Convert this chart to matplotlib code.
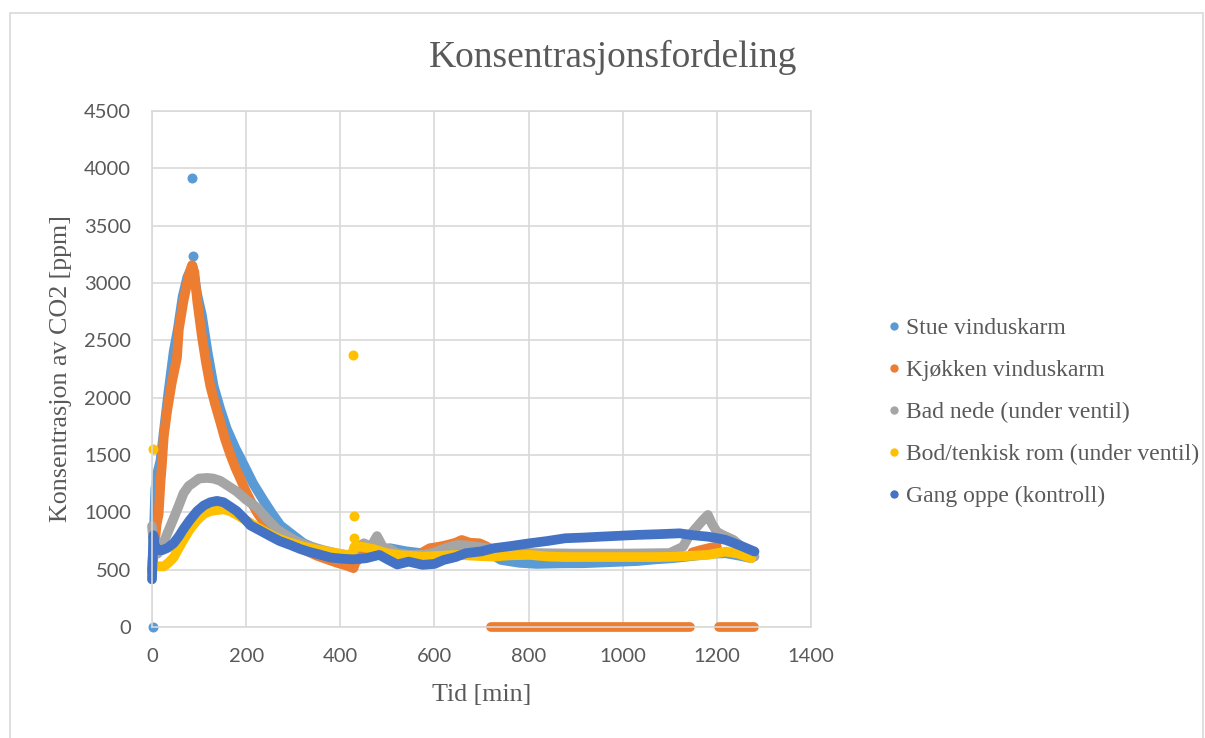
"""Konsentrasjonsfordeling av CO2 i fem målepunkter."""

import matplotlib
matplotlib.use("Agg")
import matplotlib.pyplot as plt
from matplotlib.lines import Line2D
from matplotlib.patches import Rectangle

# Stue vinduskarm
stue_tid = [0, 3, 7, 12, 18, 25, 35, 46, 55, 65, 75, 86, 96, 106, 118, 131, 145, 159,
            177, 195, 215, 237, 255, 273, 300, 322, 350, 379, 405, 428, 445, 475, 506,
            540, 575, 610, 650, 690, 720, 741, 780, 817, 870, 916, 970, 1030, 1070,
            1106, 1150, 1190, 1219, 1250, 1273]
stue_ppm = [500, 700, 1200, 1350, 1450, 1700, 2050, 2400, 2600, 2880, 3050, 3150, 2900,
            2720, 2400, 2100, 1900, 1726, 1560, 1415, 1250, 1104, 990, 886, 800, 731,
            680, 637, 605, 575, 650, 680, 687, 660, 643, 640, 650, 680, 640, 585, 560,
            550, 555, 556, 565, 575, 590, 600, 620, 640, 643, 620, 600]
stue_avvik_tid = [86, 87, 3]
stue_avvik_ppm = [3918, 3234, 0]

# Kjøkken vinduskarm
kjokken_tid = [0, 5, 10, 14, 18, 21, 25, 32, 42, 53, 57, 67, 78, 85, 90, 96, 106, 115,
               124, 135, 145, 155, 166, 177, 188, 198, 209, 223, 237, 251, 265, 285,
               308, 330, 350, 372, 393, 410, 428, 432, 445, 461, 480, 499, 520, 544,
               570, 590, 610, 628, 645, 658, 675, 696, 712]
kjokken_ppm = [480, 700, 900, 980, 1260, 1415, 1663, 1881, 2130, 2348, 2596, 2845, 3063,
               3156, 3094, 2845, 2534, 2300, 2099, 1930, 1788, 1640, 1508, 1390, 1290,
               1195, 1104, 1000, 917, 850, 793, 745, 700, 660, 622, 590, 560, 540, 513,
               560, 620, 672, 660, 643, 630, 614, 640, 687, 700, 716, 735, 759, 735,
               730, 700]
kjokken_tid2 = [1148, 1165, 1185, 1200]
kjokken_ppm2 = [650, 670, 690, 700]
kjokken_null_tid = [[720, 1143], [1205, 1278]]
kjokken_null_ppm = [[0, 0], [0, 0]]

# Bad nede (under ventil)
bad_tid = [0, 5, 12, 21, 33, 46, 57, 67, 78, 88, 100, 117, 130, 145, 162, 180, 200, 223,
           245, 265, 285, 308, 335, 365, 395, 421, 432, 450, 465, 478, 492, 506, 521,
           545, 575, 600, 625, 650, 670, 688, 710, 726, 760, 800, 900, 1000, 1100, 1128,
           1140, 1158, 1172, 1181, 1189, 1200, 1212, 1235, 1255, 1280]
bad_ppm = [880, 650, 640, 700, 820, 948, 1060, 1166, 1230, 1259, 1295, 1300, 1295, 1275,
           1230, 1181, 1110, 1042, 940, 855, 800, 746, 705, 669, 640, 622, 680, 730, 700,
           793, 684, 680, 643, 630, 629, 650, 690, 716, 710, 701, 690, 680, 655, 645,
           640, 640, 645, 700, 788, 875, 940, 977, 904, 830, 803, 760, 690, 614]

# Bod/tenkisk rom (under ventil)
bod_tid = [0, 10, 25, 35, 46, 57, 67, 80, 96, 110, 124, 138, 152, 166, 180, 200, 223, 245,
           265, 290, 322, 350, 379, 405, 424, 430, 445, 470, 499, 530, 575, 610, 650, 690,
           726, 760, 802, 840, 878, 950, 1030, 1070, 1106, 1140, 1181, 1219, 1245, 1273]
bod_ppm = [545, 530, 528, 560, 606, 690, 762, 850, 933, 985, 1011, 1020, 1026, 1010, 979,
           930, 871, 820, 777, 740, 700, 675, 653, 635, 622, 700, 700, 680, 643, 625, 614,
           620, 629, 620, 614, 625, 629, 615, 610, 610, 610, 610, 612, 620, 629, 658, 640,
           600]
bod_avvik_tid = [2, 428, 430, 430]
bod_avvik_ppm = [1555, 2372, 970, 777]

# Gang oppe (kontroll)
gang_tid = [0, 1, 3, 6, 14, 21, 33, 46, 57, 67, 80, 96, 110, 124, 138, 152, 166, 180, 195,
            209, 230, 251, 271, 294, 315, 336, 358, 379, 405, 428, 455, 483, 500, 521, 545,
            575, 600, 620, 645, 666, 700, 726, 760, 802, 840, 878, 916, 954, 990, 1030,
            1080, 1121, 1150, 1181, 1200, 1219, 1250, 1280]
gang_ppm = [415, 550, 800, 700, 670, 669, 690, 731, 790, 855, 930, 1011, 1060, 1088, 1100,
            1088, 1050, 1011, 950, 886, 840, 793, 750, 715, 680, 653, 630, 606, 595, 590,
            600, 629, 590, 545, 570, 542, 550, 585, 610, 643, 660, 687, 705, 730, 750,
            774, 780, 788, 795, 803, 810, 817, 800, 788, 775, 759, 710, 658]

serier = ["Stue vinduskarm", "Kjøkken vinduskarm", "Bad nede (under ventil)",
          "Bod/tenkisk rom (under ventil)", "Gang oppe (kontroll)"]
farger = ["#5B9BD5", "#ED7D31", "#A5A5A5", "#FFC000", "#4472C4"]

x_ticks = range(0, 1401, 200)
y_ticks = range(0, 4501, 500)

serif = ["Liberation Serif", "DejaVu Serif"]
tekstfarge = "#595959"
gridfarge = "#D9D9D9"

fig = plt.figure(figsize=(12.05, 7.38), dpi=100)
ax = fig.add_axes([152 / 1205, 111 / 738, 659 / 1205, 516 / 738])

# Ramme rundt diagramområdet
fig.patches.append(Rectangle((10 / 1205, -0.1), 1193 / 1205, 1.1 - 13 / 738,
                             transform=fig.transFigure, fill=False,
                             edgecolor=gridfarge, lw=1.2))

bredde = 7.0
stil = dict(lw=bredde, solid_capstyle="round", solid_joinstyle="round", clip_on=False)
prikk = dict(ls="none", marker="o", ms=7.2, mew=0, clip_on=False)

ax.plot(stue_tid, stue_ppm, color=farger[0], **stil)
ax.plot(stue_avvik_tid, stue_avvik_ppm, color=farger[0], **prikk)

ax.plot(kjokken_tid, kjokken_ppm, color=farger[1], **stil)
ax.plot(kjokken_tid2, kjokken_ppm2, color=farger[1], **stil)
for t, v in zip(kjokken_null_tid, kjokken_null_ppm):
    ax.plot(t, v, color=farger[1], **stil)

ax.plot(bad_tid, bad_ppm, color=farger[2], **stil)

ax.plot(bod_tid, bod_ppm, color=farger[3], **stil)
ax.plot(bod_avvik_tid, bod_avvik_ppm, color=farger[3], **prikk)

ax.plot(gang_tid, gang_ppm, color=farger[4], **stil)

ax.set_xlim(0, 1400)
ax.set_ylim(0, 4500)
ax.set_xticks(list(x_ticks))
ax.set_yticks(list(y_ticks))
ax.grid(True, color=gridfarge, lw=1.2)
ax.set_axisbelow(True)
for s in ax.spines.values():
    s.set_color(gridfarge)
    s.set_linewidth(1.2)
ax.tick_params(length=0, labelsize=14.5, labelcolor=tekstfarge, pad=15)
for lab in ax.get_xticklabels() + ax.get_yticklabels():
    lab.set_family(["Lato", "DejaVu Sans"])

ax.set_xlabel("Tid [min]", family=serif, fontsize=18.7, color=tekstfarge, va="top")
ax.xaxis.set_label_coords(0.5, -0.11)
ax.set_ylabel("Konsentrasjon av CO2 [ppm]", family=serif, fontsize=18.7,
              color=tekstfarge, va="center")
ax.yaxis.set_label_coords(-0.138, 0.5)

fig.text(0.509, 1 - 67.3 / 738, "Konsentrasjonsfordeling", family=serif, fontsize=27,
         color=tekstfarge, ha="center", va="baseline")

handles = [Line2D([], [], ls="none", marker="o", ms=6, mew=0, color=c) for c in farger]
leg = fig.legend(handles, serier, loc="center left", bbox_to_anchor=(0.7183, 0.441),
                 frameon=False, handletextpad=0.2, handlelength=0.6, labelspacing=0.87,
                 borderpad=0.4, prop={"family": serif, "size": 17})
for t in leg.get_texts():
    t.set_color(tekstfarge)

fig.savefig("out.png", dpi=100)
